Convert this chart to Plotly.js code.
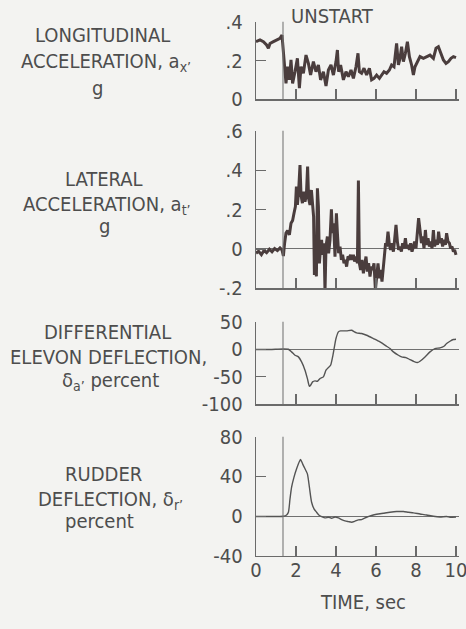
<!DOCTYPE html>
<html>
<head>
<meta charset="utf-8">
<script src="https://cdn.plot.ly/plotly-3.0.1.min.js"></script>
<style>
html,body{margin:0;padding:0;background:#f3f3f1;}
#chart{width:466px;height:629px;}
</style>
</head>
<body>
<div id="chart"></div>
<script>
// ---------- data ----------
const unstartTime = 1.35;

const timeLong = [0,0.2,0.37,0.53,0.62,0.7,0.87,1.03,1.2,1.3,1.37,1.42,1.5,1.58,1.67,1.75,1.83,1.95,2.07,2.17,2.25,2.37,2.5,2.62,2.73,2.87,3.0,3.12,3.23,3.37,3.5,3.62,3.75,3.87,4.0,4.07,4.13,4.23,4.37,4.5,4.62,4.75,4.87,5.0,5.1,5.17,5.28,5.4,5.53,5.67,5.78,5.9,6.03,6.17,6.28,6.4,6.53,6.67,6.78,6.9,7.03,7.12,7.2,7.28,7.37,7.47,7.57,7.67,7.78,7.87,7.95,8.07,8.2,8.37,8.53,8.7,8.87,9.0,9.12,9.23,9.37,9.5,9.62,9.75,9.87,10.0];
const longAccel = [0.297,0.306,0.297,0.280,0.263,0.288,0.297,0.306,0.314,0.331,0.237,0.142,0.082,0.168,0.100,0.203,0.082,0.142,0.211,0.057,0.168,0.134,0.228,0.185,0.125,0.194,0.142,0.177,0.100,0.142,0.069,0.151,0.177,0.125,0.194,0.254,0.142,0.177,0.100,0.142,0.117,0.151,0.108,0.168,0.237,0.142,0.134,0.160,0.125,0.160,0.100,0.108,0.125,0.108,0.125,0.142,0.134,0.151,0.177,0.168,0.288,0.177,0.211,0.271,0.194,0.237,0.297,0.220,0.177,0.125,0.168,0.194,0.220,0.211,0.220,0.228,0.211,0.263,0.271,0.237,0.203,0.185,0.194,0.211,0.220,0.215];

const timeLat = [0,0.13,0.27,0.4,0.53,0.67,0.8,0.93,1.07,1.2,1.3,1.37,1.43,1.5,1.58,1.67,1.75,1.83,1.9,1.97,2.02,2.07,2.13,2.2,2.25,2.32,2.38,2.45,2.52,2.58,2.63,2.7,2.77,2.83,2.88,2.92,2.97,3.02,3.07,3.12,3.17,3.22,3.28,3.33,3.4,3.45,3.5,3.57,3.63,3.7,3.77,3.82,3.88,3.95,4.02,4.07,4.13,4.2,4.27,4.33,4.4,4.47,4.53,4.6,4.67,4.73,4.8,4.87,4.93,5.0,5.07,5.12,5.17,5.23,5.3,5.37,5.43,5.5,5.57,5.63,5.7,5.77,5.83,5.9,5.97,6.03,6.1,6.17,6.23,6.3,6.37,6.43,6.48,6.53,6.6,6.67,6.73,6.8,6.87,6.93,7.0,7.07,7.13,7.2,7.27,7.33,7.4,7.47,7.53,7.6,7.67,7.73,7.8,7.87,7.93,8.0,8.07,8.13,8.2,8.27,8.33,8.4,8.47,8.53,8.6,8.67,8.73,8.8,8.87,8.93,9.0,9.07,9.13,9.2,9.27,9.33,9.4,9.47,9.53,9.6,9.67,9.73,9.8,9.87,9.93,10.0];
const latAccel = [-0.022,-0.012,-0.029,-0.008,-0.019,-0.002,-0.015,0.002,-0.008,0.005,-0.005,-0.036,0.029,0.080,0.093,0.071,0.130,0.144,0.181,0.215,0.316,0.223,0.291,0.426,0.274,0.232,0.291,0.240,0.274,0.418,0.257,0.223,0.299,0.206,0.164,-0.132,-0.073,-0.140,0.308,0.215,-0.073,-0.005,0.046,-0.030,0.029,-0.217,0.012,0.063,-0.022,0.046,0.201,0.080,0.130,-0.039,0.181,0.080,-0.022,0.012,-0.056,-0.030,-0.073,-0.056,-0.090,-0.039,-0.047,-0.030,-0.056,-0.030,-0.064,-0.039,-0.073,0.347,-0.073,-0.107,-0.056,-0.124,-0.090,-0.039,-0.115,-0.073,-0.140,-0.090,-0.107,-0.073,-0.208,-0.124,-0.073,-0.149,-0.107,-0.166,-0.090,-0.039,0.029,0.012,0.088,0.020,-0.005,0.029,-0.014,0.046,0.122,0.037,-0.005,0.012,-0.014,0.029,0.003,0.054,0.003,0.020,-0.005,0.029,-0.014,0.012,0.037,0.003,0.080,0.156,0.096,0.029,0.063,0.003,0.096,0.020,0.054,0.012,0.037,0.003,0.096,0.012,0.046,0.020,0.088,0.029,0.054,0.012,0.046,0.020,0.080,0.037,0.029,0.003,0.012,-0.014,-0.005,-0.030];

const timeElevon = [0,0.37,0.7,1.03,1.37,1.62,1.78,1.95,2.12,2.28,2.45,2.57,2.67,2.73,2.83,2.95,3.07,3.2,3.37,3.5,3.62,3.73,3.83,3.92,4.0,4.12,4.23,4.37,4.53,4.78,4.92,5.03,5.28,5.53,5.87,6.2,6.53,6.7,6.87,7.12,7.28,7.5,7.7,7.87,8.07,8.2,8.45,8.7,8.95,9.2,9.4,9.53,9.7,9.87,10.0];
const elevon = [-0.6,-0.6,-0.6,0,0.6,0,-4.8,-10.9,-13.9,-23,-38.1,-53.3,-67.2,-65.4,-59.3,-57.5,-58.1,-53.3,-50.2,-38.1,-33.3,-29.1,-13.9,4.2,19.4,31.5,33.3,33.3,33.3,34.5,31.5,29.7,28.5,25.4,19.4,13.3,5.4,1.2,-4.8,-10.9,-13.9,-15.1,-18.8,-21.8,-24.2,-21.8,-13.9,-4.8,1.2,2.4,5.4,10.3,14.5,17.6,18.2];

const timeRudder = [0,0.7,1.37,1.53,1.62,1.7,1.78,1.9,2.03,2.17,2.23,2.33,2.45,2.57,2.67,2.78,2.9,3.03,3.17,3.28,3.45,3.62,3.78,3.95,4.12,4.28,4.45,4.62,4.78,4.95,5.12,5.28,5.53,5.78,6.03,6.37,6.7,7.03,7.37,7.62,7.87,8.2,8.53,8.87,9.2,9.53,9.7,10.0];
const rudder = [-0.3,-0.3,0,1.3,4.0,17.4,29.2,39.3,47.7,55.0,57.0,52.7,47.7,42.6,29.2,14.1,7.4,4.0,0.7,-0.3,-1.7,-1.0,-2.0,-0.7,-1.7,-3.4,-4.7,-5.4,-6.0,-5.0,-3.7,-3.4,-1.0,0.7,2.0,3.0,4.0,4.7,4.7,4.0,3.4,2.3,1.3,0,-0.7,-0.3,-1.0,-0.7];

const timeTicks = [0,2,4,6,8,10];
const timeTickText = ['0','2','4','6','8','10'];
const longTicks = [0,0.2,0.4];
const longTickText = ['0','.2','.4'];
const latTicks = [-0.2,0,0.2,0.4,0.6];
const latTickText = ['-.2','0','.2','.4','.6'];
const elevonTicks = [-100,-50,0,50];
const elevonTickText = ['-100','-50','0','50'];
const rudderTicks = [-40,0,40,80];
const rudderTickText = ['-40','0','40','80'];

// ---------- styling ----------
const FONT = '"DejaVu Sans Condensed", "Liberation Sans Narrow", "Liberation Sans", sans-serif';
const TXT = '#4d4d4d';
const AX = '#6a6a6a';
const NOISY = '#4a3d3d';
const SMOOTH = '#545454';
const H = 629;
const py = p => 1 - p / H;          // pixel row -> paper fraction
const px = p => (p - 256) / 203;    // pixel column -> paper fraction

function xAx(anchor, labels){
  return {anchor, matches: anchor === 'y4' ? undefined : 'x4', range:[0,10.15], showline:true, linecolor:AX, linewidth:1.3,
    ticks:'inside', ticklen:10, tickcolor:AX, tickwidth:1.2, tickvals:timeTicks, ticktext:timeTickText,
    showticklabels:labels, showgrid:false, zeroline:false, ticklabelstandoff:-4, ticklabeloverflow:'allow',
    tickfont:{family:FONT, size:20, color:TXT}};
}
function yAx(anchor, dom, rng, tv, tt, zl){
  return {anchor, domain:dom, range:rng, showline:true, linecolor:AX, linewidth:1.3,
    ticks:'inside', ticklen:10, tickcolor:AX, tickwidth:1.2, tickvals:tv, ticktext:tt,
    showgrid:false, zeroline:zl, zerolinecolor:'#707070', zerolinewidth:1.1, ticklabelstandoff:8,
    tickfont:{family:FONT, size:20, color:TXT}};
}

const traces = [
  {x:timeLong, y:longAccel, xaxis:'x', yaxis:'y', mode:'lines', line:{color:NOISY, width:3}, hoverinfo:'skip'},
  {x:timeLat, y:latAccel, xaxis:'x2', yaxis:'y2', mode:'lines', line:{color:NOISY, width:3}, hoverinfo:'skip'},
  {x:timeElevon, y:elevon, xaxis:'x3', yaxis:'y3', mode:'lines', line:{color:SMOOTH, width:1.4, shape:'spline', smoothing:0.6}, hoverinfo:'skip'},
  {x:timeRudder, y:rudder, xaxis:'x4', yaxis:'y4', mode:'lines', line:{color:SMOOTH, width:1.4, shape:'spline', smoothing:0.6}, hoverinfo:'skip'}
];

function ann(text, x, y){
  return {text, x:px(x), y:py(y), xref:'paper', yref:'paper', showarrow:false,
    xanchor:'center', yanchor:'middle', font:{family:FONT, size:20, color:TXT}};
}

const annotations = [
  ann('LONGITUDINAL', 102, 35),
  ann('ACCELERATION, a<sub>x’</sub>', 106, 62),
  ann('g', 97, 88),
  ann('LATERAL', 104, 179),
  ann('ACCELERATION, a<sub>t’</sub>', 107, 205),
  ann('g', 104, 226),
  ann('DIFFERENTIAL', 107, 332),
  ann('ELEVON DEFLECTION,', 108, 357),
  ann('δ<sub>a’</sub> percent', 110, 381),
  ann('RUDDER', 103, 474),
  ann('DEFLECTION, δ<sub>r’</sub>', 110, 500),
  ann('percent', 99, 521),
  ann('UNSTART', 332, 16),
  ann('TIME, sec', 363, 602)
];

const shapes = ['y','y2','y3','y4'].map((ya,i)=>({
  type:'line', xref:['x','x2','x3','x4'][i], yref:ya+' domain', x0:unstartTime, x1:unstartTime, y0:0, y1:1,
  line:{color:'#777', width:1.1}
}));

const layout = {
  width:466, height:629, margin:{l:256, r:7, t:0, b:0},
  paper_bgcolor:'#f3f3f1', plot_bgcolor:'rgba(0,0,0,0)', showlegend:false,
  xaxis: xAx('y', false), xaxis2: xAx('y2', false), xaxis3: xAx('y3', false), xaxis4: xAx('y4', true),
  yaxis: yAx('x', [py(99.3), py(21.7)], [0,0.4], longTicks, longTickText, false),
  yaxis2: yAx('x2', [py(288.3), py(130.7)], [-0.2,0.6], latTicks, latTickText, true),
  yaxis3: yAx('x3', [py(404.3), py(321.7)], [-100,50], elevonTicks, elevonTickText, true),
  yaxis4: yAx('x4', [py(556), py(436.7)], [-40,80], rudderTicks, rudderTickText, true),
  annotations, shapes
};

Plotly.newPlot('chart', traces, layout, {staticPlot:true, displayModeBar:false});
</script>
</body>
</html>
